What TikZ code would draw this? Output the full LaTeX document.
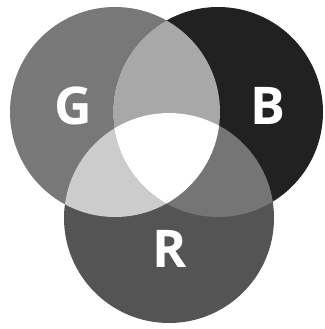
\documentclass[tikz,border=0pt]{standalone}
\usepackage{fontspec}
\setmainfont{Open Sans}
\definecolor{gcol}{gray}{0.47}
\definecolor{bcol}{gray}{0.13}
\definecolor{rcol}{gray}{0.33}
\definecolor{gbcol}{gray}{0.66}
\definecolor{grcol}{gray}{0.80}
\definecolor{brcol}{gray}{0.46}
\begin{document}
\begin{tikzpicture}[x=1pt, y=-1pt,
    disc/.style={radius=105pt},
    lbl/.style={text=white, inner sep=0pt,
        font=\bfseries\fontsize{52}{52}\selectfont},
]
\useasboundingbox (0,0) rectangle (324,329);
\fill[white] (0,0) rectangle (324,329);

% Circle centres
\coordinate (g) at (115,112);
\coordinate (b) at (218,112);
\coordinate (r) at (169,218);

% Single discs
\fill[gcol, disc] (g) circle;
\fill[bcol, disc] (b) circle;
\fill[rcol, disc] (r) circle;

% Pairwise overlaps
\begin{scope}
    \clip[disc] (g) circle;
    \fill[gbcol, disc] (b) circle;
    \fill[grcol, disc] (r) circle;
\end{scope}
\begin{scope}
    \clip[disc] (b) circle;
    \fill[brcol, disc] (r) circle;
\end{scope}

% Centre, all three
\begin{scope}
    \clip[disc] (g) circle;
    \clip[disc] (b) circle;
    \fill[white, disc] (r) circle;
\end{scope}

% Letters
\node[lbl] (glbl) at (73.5,105.5) {G};
\node[lbl] (blbl) at (268,105.5) {B};
\node[lbl] (rlbl) at (170,248.5) {R};
\end{tikzpicture}
\end{document}
